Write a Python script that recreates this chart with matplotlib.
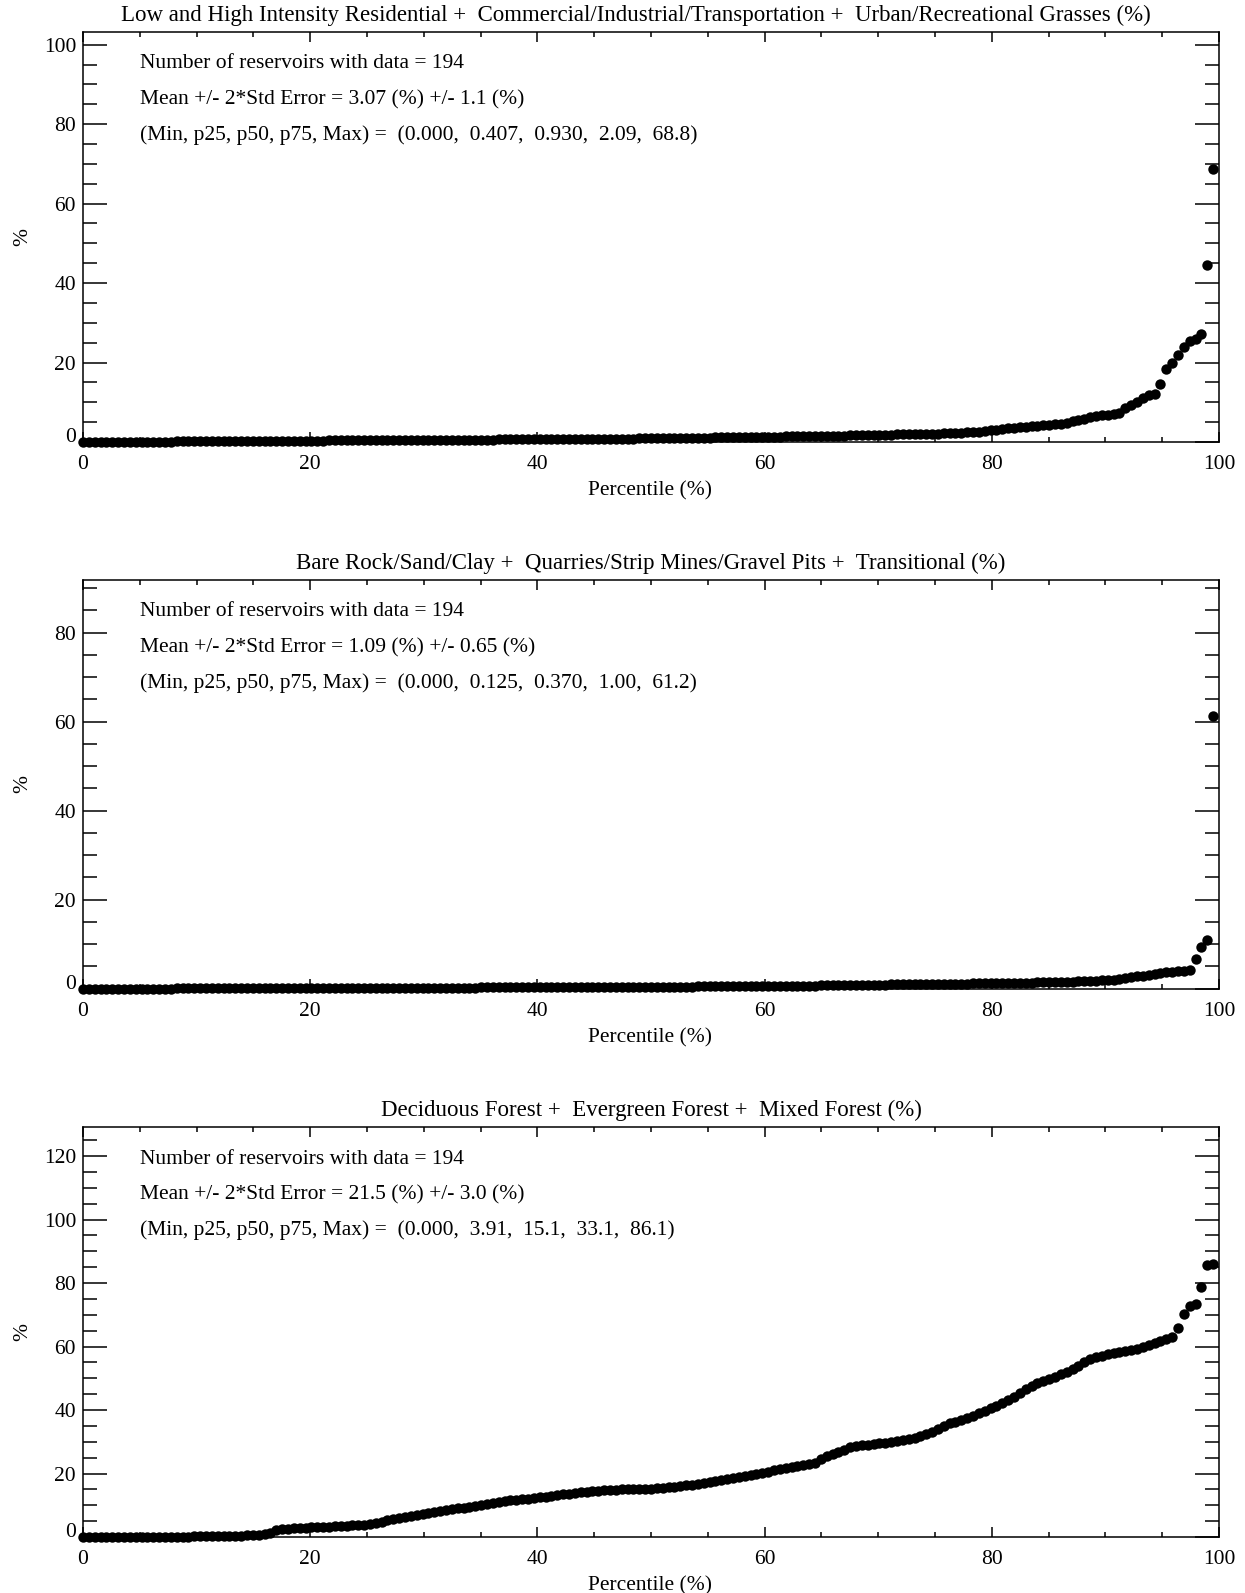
import numpy as np
import matplotlib
matplotlib.use("Agg")
import matplotlib.pyplot as plt
from matplotlib.ticker import MultipleLocator
from matplotlib.transforms import ScaledTranslation

plt.rcParams['font.family'] = ['Liberation Serif', 'DejaVu Serif']

# ---- data -----------------------------------------------------------------
titles = [
    "Low and High Intensity Residential +  Commercial/Industrial/Transportation +  Urban/Recreational Grasses (%)",
    "Bare Rock/Sand/Clay +  Quarries/Strip Mines/Gravel Pits +  Transitional (%)",
    "Deciduous Forest +  Evergreen Forest +  Mixed Forest (%)",
]
n_reservoirs = [194, 194, 194]
mean_text = ["3.07 (%) +/- 1.1 (%)", "1.09 (%) +/- 0.65 (%)", "21.5 (%) +/- 3.0 (%)"]
summary_text = [
    "(0.000,  0.407,  0.930,  2.09,  68.8)",
    "(0.000,  0.125,  0.370,  1.00,  61.2)",
    "(0.000,  3.91,  15.1,  33.1,  86.1)",
]
y_ticks_max = [100, 80, 120]

# sorted land-cover percentages, one value per reservoir
urban = [
    0.000, 0.000, 0.000, 0.005, 0.010, 0.020,
    0.03, 0.04, 0.05, 0.06, 0.07, 0.08, 0.09, 0.10, 0.11, 0.12, 0.13, 0.14, 0.15, 0.16, 0.17,
    0.18, 0.19, 0.20, 0.21, 0.22, 0.23, 0.24, 0.25, 0.26, 0.27, 0.28, 0.29, 0.30, 0.31, 0.32,
    0.33, 0.34, 0.35, 0.36, 0.37, 0.37, 0.38, 0.38, 0.39, 0.39, 0.40, 0.40, 0.407,
    0.41, 0.42, 0.43, 0.44, 0.45, 0.46, 0.47, 0.48, 0.49, 0.50, 0.51, 0.52, 0.53, 0.54, 0.55,
    0.56, 0.57, 0.58, 0.59, 0.60, 0.61, 0.62, 0.63, 0.64, 0.65, 0.66, 0.67, 0.68, 0.69, 0.70,
    0.71, 0.72, 0.73, 0.74, 0.75, 0.76, 0.77, 0.78, 0.79, 0.80, 0.81, 0.82, 0.84, 0.85, 0.87,
    0.88, 0.90, 0.91, 0.93,
    0.95, 0.97, 0.99, 1.01, 1.03, 1.05, 1.07, 1.09, 1.11, 1.13, 1.15, 1.17, 1.19, 1.21, 1.23,
    1.25, 1.27, 1.29, 1.31, 1.33, 1.35, 1.37, 1.39, 1.41, 1.43, 1.45, 1.47, 1.49, 1.51, 1.53,
    1.56, 1.59, 1.62, 1.65, 1.68, 1.71, 1.74, 1.77, 1.80, 1.83, 1.86, 1.89, 1.92, 1.95, 1.98,
    2.01, 2.05, 2.09,
    2.13, 2.18, 2.23, 2.29, 2.35, 2.42, 2.50, 2.60, 2.75, 2.95,
    3.10, 3.25, 3.40, 3.55, 3.70, 3.85, 4.00, 4.15, 4.25, 4.35, 4.45, 4.60, 4.90, 5.20,
    5.5, 5.8, 6.2, 6.5, 6.7, 6.8, 7.0, 7.2, 8.5, 9.3, 10.0, 11.0, 11.8, 12.2, 14.5, 18.3,
    19.8, 22.0, 23.8, 25.5, 26.0, 27.2, 44.5, 68.8,
]

barren = [
    0.0, 0.0, 0.0, 0.0, 0.0, 0.0, 0.0, 0.0, 0.0, 0.0, 0.0, 0.0, 0.0, 0.0, 0.0, 0.0,
    0.005, 0.01, 0.015, 0.02, 0.025, 0.03, 0.035, 0.04, 0.045, 0.05, 0.055, 0.06, 0.065,
    0.07, 0.075,
    0.08, 0.083, 0.086, 0.089, 0.092, 0.095, 0.098, 0.101, 0.104, 0.107, 0.11, 0.112, 0.114,
    0.116, 0.118, 0.12, 0.122, 0.125,
    0.13, 0.135, 0.14, 0.145, 0.15, 0.155, 0.16, 0.165, 0.17, 0.175, 0.18, 0.185, 0.19, 0.195,
    0.20, 0.205, 0.21, 0.215, 0.22, 0.225, 0.23, 0.235, 0.24, 0.245, 0.25, 0.255, 0.26, 0.265,
    0.27, 0.275, 0.28, 0.285, 0.29, 0.295, 0.30, 0.305, 0.31, 0.315, 0.32, 0.325, 0.33, 0.335,
    0.34, 0.345, 0.35, 0.355, 0.36, 0.365, 0.37,
    0.38, 0.39, 0.40, 0.41, 0.42, 0.43, 0.44, 0.45, 0.46, 0.47, 0.48, 0.49, 0.50, 0.51, 0.52,
    0.53, 0.54, 0.55, 0.56, 0.57, 0.58, 0.59, 0.60, 0.61, 0.62, 0.63, 0.64, 0.66, 0.68, 0.70,
    0.72, 0.74, 0.76, 0.78, 0.80, 0.82, 0.84, 0.86, 0.88, 0.89, 0.90, 0.91, 0.92, 0.93, 0.95,
    0.96, 0.98, 1.00,
    1.02, 1.04, 1.06, 1.08, 1.10, 1.12, 1.14, 1.16, 1.18, 1.20, 1.22, 1.24, 1.26, 1.28, 1.30,
    1.32, 1.34, 1.36, 1.38, 1.40, 1.43, 1.46, 1.50, 1.55,
    1.60, 1.65, 1.70, 1.75, 1.80, 1.85, 1.95, 2.05,
    2.3, 2.5, 2.7, 2.9, 3.1, 3.3, 3.5,
    3.7, 3.8, 3.9, 4.0, 4.2,
    6.7, 9.4, 10.9, 61.2,
]

forest = [
    0.0, 0.0, 0.0, 0.0, 0.0, 0.0, 0.0, 0.0, 0.0, 0.0, 0.0, 0.0, 0.0,
    0.05, 0.07, 0.09, 0.11, 0.13, 0.15, 0.17, 0.19, 0.21, 0.23, 0.25, 0.27, 0.30,
    0.35, 0.42, 0.50, 0.60, 0.70, 0.85,
    1.2, 2.2, 2.5, 2.6, 2.7, 2.8, 2.9, 3.0, 3.1, 3.2, 3.3, 3.4, 3.5, 3.6, 3.7, 3.8, 3.91,
    4.2, 4.5, 4.8, 5.2, 5.6, 6.0, 6.3, 6.6, 6.9, 7.2, 7.5, 7.8, 8.1, 8.4, 8.7, 9.0, 9.2, 9.5, 9.8,
    10.1, 10.4, 10.6, 10.9, 11.2, 11.5, 11.7, 11.9, 12.1, 12.3, 12.5, 12.7, 13.0, 13.2, 13.4,
    13.6, 13.9, 14.1, 14.3, 14.4, 14.6, 14.7, 14.8, 14.9, 15.0, 15.0, 15.1, 15.1, 15.1, 15.1,
    15.3, 15.5, 15.7, 15.9, 16.1, 16.3, 16.5, 16.8, 17.0, 17.3, 17.6, 17.9, 18.2, 18.5, 18.8,
    19.1, 19.4, 19.8, 20.2, 20.6, 21.0, 21.4, 21.8, 22.1, 22.4, 22.7, 23.0, 23.3,
    24.5, 25.5, 26.2, 26.8, 27.5, 28.3, 28.6, 28.9, 29.1, 29.3, 29.5, 29.7, 29.9, 30.1, 30.4,
    30.8, 31.2, 31.7, 32.3, 33.1,
    34.0, 35.0, 35.8, 36.3, 36.8, 37.4, 38.2, 39.0, 39.8, 40.6, 41.4, 42.2, 43.0, 44.0, 45.3,
    46.5, 47.6, 48.4, 49.2, 49.9, 50.5, 51.2, 52.0, 53.0,
    54.0, 55.1, 56.0, 56.6, 57.1, 57.5, 57.9, 58.2, 58.5, 58.8, 59.3, 59.9, 60.6, 61.2, 61.8,
    62.4, 63.0, 65.7, 70.2, 72.8, 73.5, 78.8, 85.6, 86.1,
]

series = [urban, barren, forest]

# ---- layout (pixels) --------------------------------------------------------
W, H = 1245, 1593
DPI = 100
fig = plt.figure(figsize=(W / DPI, H / DPI), dpi=DPI)
fig.patch.set_facecolor("white")

ax_left, ax_right = 83, 1219
panels = [(32, 442), (580, 988.5), (1127, 1537)]
title_cx = [636, 651, 651]
FS = 15.5
TITLE_FS = 16.5


def fx(px):
    return px / W


def fy(py):
    return 1 - py / H


for k, (top, bottom) in enumerate(panels):
    vals = np.asarray(series[k], dtype=float)
    n = len(vals)
    pct = np.arange(n) * 100.0 / n

    ax = fig.add_axes([fx(ax_left), fy(bottom), (ax_right - ax_left) / W, (bottom - top) / H])
    ax.plot(pct, vals, "o", color="black", ms=7.5, mew=0, clip_on=False, zorder=3)

    ax.set_xlim(0, 100)
    ax.set_ylim(0, 1.5 * vals.max())
    ax.xaxis.set_major_locator(MultipleLocator(20))
    ax.xaxis.set_minor_locator(MultipleLocator(5))
    ax.set_yticks(np.arange(0, y_ticks_max[k] + 1, 20))
    ax.yaxis.set_minor_locator(MultipleLocator(5))

    for s in ax.spines.values():
        s.set_linewidth(1.1)
    ax.tick_params(which="both", direction="in", top=True, right=True,
                   width=1.1, colors="black", labelsize=FS)
    ax.tick_params(axis="y", which="major", length=17.3, pad=5)
    ax.tick_params(axis="y", which="minor", length=10)
    ax.tick_params(axis="x", which="major", length=7, pad=9.5)
    ax.tick_params(axis="x", which="minor", length=3.4)

    # lift the lowest y label clear of the x-axis labels
    lab0 = ax.yaxis.get_major_ticks()[0].label1
    lab0.set_transform(lab0.get_transform() + ScaledTranslation(0, 7 / DPI, fig.dpi_scale_trans))

    fig.text(fx(title_cx[k]), fy(top - 17), titles[k], ha="center", va="center",
             fontsize=TITLE_FS)
    fig.text(fx(650), fy(bottom + 49), "Percentile (%)", ha="center", va="center", fontsize=FS)
    fig.text(fx(23), fy((top + bottom) / 2), "%", ha="center", va="center",
             rotation=90, fontsize=FS)

    lines = [
        f"Number of reservoirs with data = {n_reservoirs[k]}",
        f"Mean +/- 2*Std Error = {mean_text[k]}",
        f"(Min, p25, p50, p75, Max) =  {summary_text[k]}",
    ]
    for j, line in enumerate(lines):
        fig.text(fx(140), fy(top + 32 + 35.5 * j), line, ha="left", va="center", fontsize=FS)

fig.savefig("out.png", dpi=DPI, facecolor="white")
